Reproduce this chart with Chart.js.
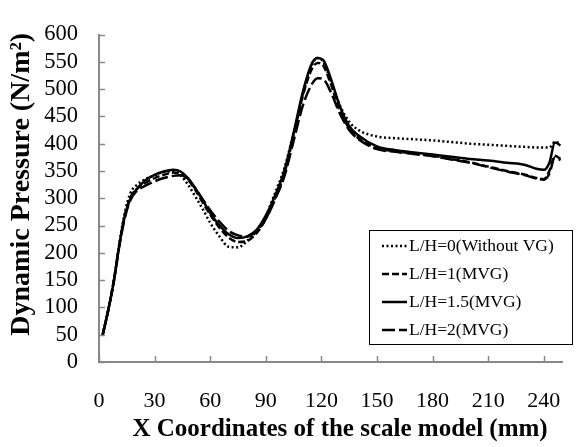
<!DOCTYPE html>
<html><head><meta charset="utf-8">
<script src="https://cdn.jsdelivr.net/npm/chart.js@4/dist/chart.umd.min.js"></script>
<style>html,body{margin:0;padding:0;background:#fff}#wrap{position:relative;width:587px;height:447px}</style>
</head><body><div id="wrap"><canvas id="c" width="587" height="447"></canvas></div>
<script>
// X coordinates (mm)
const xCoords = [2, 5, 8, 11, 14, 17, 20, 25, 30, 35, 40, 44, 48, 52, 56, 60, 65, 70, 75, 80, 85, 90, 95, 100, 105, 110, 115, 118, 121, 125, 130, 135, 140, 150, 160, 170, 180, 190, 200, 210, 220, 230, 236, 240, 243, 246, 249];
// Dynamic pressure (N/m2)
const lh0  = [50, 97, 150, 218, 275, 310, 323, 335, 342, 348, 349, 342, 325, 303, 280, 255, 230, 211, 210, 222, 240, 268, 310, 355, 420, 490, 545, 557, 550, 515, 470, 440, 425, 413, 410, 408, 406, 403, 400, 398, 396, 394, 393, 393, 393, 403, 400];
const lh1  = [50, 95, 148, 215, 270, 302, 316, 328, 337, 343, 347, 345, 334, 315, 292, 270, 246, 228, 220, 222, 236, 262, 300, 345, 415, 488, 538, 548, 543, 510, 460, 428, 410, 392, 386, 382, 378, 372, 366, 358, 350, 343, 337, 335, 350, 378, 372];
const lh15 = [50, 95, 148, 215, 268, 300, 315, 333, 343, 349, 352, 349, 337, 318, 296, 273, 250, 234, 227, 230, 242, 268, 305, 350, 420, 495, 548, 557, 553, 520, 468, 432, 415, 395, 388, 384, 380, 376, 372, 369, 365, 361, 354, 352, 365, 402, 397];
const lh2  = [50, 95, 148, 213, 265, 297, 312, 323, 331, 337, 341, 342, 335, 318, 298, 278, 257, 240, 232, 230, 240, 262, 298, 340, 405, 470, 510, 520, 518, 495, 455, 425, 408, 390, 385, 381, 377, 371, 365, 357, 349, 342, 336, 334, 345, 375, 370];
const seriesLabels = ['L/H=0(Without VG)', 'L/H=1(MVG)', 'L/H=1.5(MVG)', 'L/H=2(MVG)'];
const xTickValues = [0, 30, 60, 90, 120, 150, 180, 210, 240];
const yTickValues = [0, 50, 100, 150, 200, 250, 300, 350, 400, 450, 500, 550, 600];

const FONT = '"Liberation Serif", "Times New Roman", serif';
Chart.defaults.font.family = FONT;
Chart.defaults.color = '#000';

function pts(ys) { return xCoords.map((x, i) => ({x: x, y: ys[i]})); }
const dashes = [[2, 2.5], [7, 3], [], [13, 4]];
const seriesData = [lh0, lh1, lh15, lh2];

const datasets = seriesData.map((ys, i) => ({
  label: seriesLabels[i],
  data: pts(ys),
  borderColor: '#000',
  backgroundColor: '#000',
  borderWidth: 2.5,
  borderDash: dashes[i],
  pointRadius: 0,
  cubicInterpolationMode: 'monotone',
  fill: false
}));

const innerTicks = {
  id: 'innerTicks',
  afterDraw(chart) {
    const ctx = chart.ctx;
    const xs = chart.scales.x, ys = chart.scales.y;
    const a = chart.chartArea;
    ctx.save();
    ctx.strokeStyle = '#888';
    ctx.lineWidth = 1.5;
    yTickValues.forEach(v => {
      const py = Math.round(ys.getPixelForValue(v)) + 0.5;
      ctx.beginPath(); ctx.moveTo(a.left, py); ctx.lineTo(a.left + 6, py); ctx.stroke();
    });
    xTickValues.forEach(v => {
      const px = Math.round(xs.getPixelForValue(v)) + 0.5;
      ctx.beginPath(); ctx.moveTo(px, a.bottom); ctx.lineTo(px, a.bottom - 6); ctx.stroke();
    });
    ctx.restore();
  }
};

const boxLegend = {
  id: 'boxLegend',
  afterDraw(chart) {
    const ctx = chart.ctx;
    const bx = 369, by = 230, bw = 203, bh = 114;
    ctx.save();
    ctx.fillStyle = '#fff';
    ctx.fillRect(bx, by, bw, bh);
    ctx.strokeStyle = '#000';
    ctx.lineWidth = 1;
    ctx.strokeRect(bx + 0.5, by + 0.5, bw, bh);
    ctx.font = '17.5px ' + FONT;
    ctx.textBaseline = 'middle';
    ctx.fillStyle = '#000';
    chart.data.datasets.forEach((ds, i) => {
      const y = by + 16 + i * 28;
      ctx.save();
      ctx.strokeStyle = '#000';
      ctx.lineWidth = 2.5;
      ctx.setLineDash(ds.borderDash);
      ctx.beginPath(); ctx.moveTo(382, y); ctx.lineTo(407, y); ctx.stroke();
      ctx.restore();
      ctx.fillText(ds.label, 409, y);
    });
    ctx.restore();
  }
};

new Chart(document.getElementById('c'), {
  type: 'line',
  data: { datasets: datasets },
  options: {
    responsive: false,
    animation: false,
    layout: { padding: { top: 18, right: 17, left: 0, bottom: 0 } },
    plugins: { legend: { display: false }, tooltip: { enabled: false } },
    scales: {
      x: {
        type: 'linear', min: 0, max: 250,
        afterFit(s) { s.height = 85; },
        grid: { display: false, drawTicks: false },
        border: { display: true, color: '#888', width: 2 },
        ticks: { stepSize: 30, includeBounds: false, autoSkip: false, padding: 26, font: { size: 22 }, color: '#000', maxRotation: 0 },
        title: { display: true, text: '   X Coordinates of the scale model (mm)', font: { size: 25, weight: 'bold' }, padding: { top: 0, bottom: 2 }, color: '#000' }
      },
      y: {
        min: 0, max: 600,
        afterFit(s) { s.width = 99; },
        grid: { display: false, drawTicks: false },
        border: { display: true, color: '#888', width: 2 },
        ticks: { stepSize: 50, autoSkip: false, padding: 21, font: { size: 22.5 }, color: '#000' },
        title: { display: true, text: '    Dynamic Pressure (N/m²)', font: { size: 28, weight: 'bold' }, padding: { top: 5, bottom: 0 }, color: '#000' }
      }
    }
  },
  plugins: [innerTicks, boxLegend]
});
</script></body></html>
